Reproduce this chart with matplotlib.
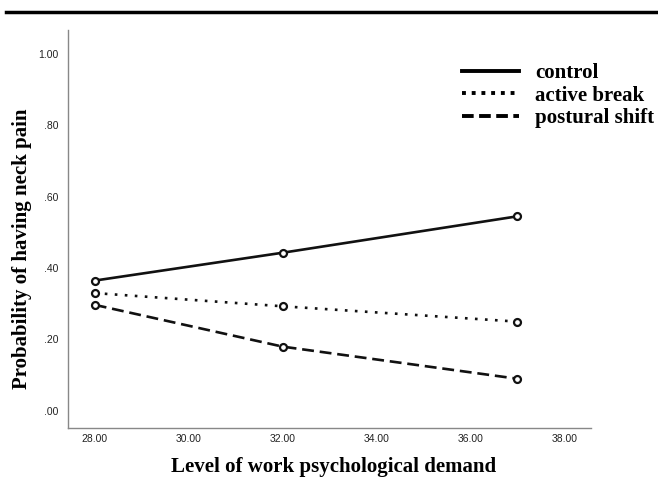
import matplotlib
matplotlib.use('Agg')
import matplotlib.pyplot as plt
from matplotlib.lines import Line2D

demand = [28, 32, 37]
control = [0.365, 0.443, 0.545]
active_break = [0.33, 0.293, 0.25]
postural_shift = [0.297, 0.18, 0.09]
x_ticks = [28, 30, 32, 34, 36, 38]
y_ticks = [0.0, 0.2, 0.4, 0.6, 0.8, 1.0]
y_labels = ['.00', '.20', '.40', '.60', '.80', '1.00']

fig = plt.figure(figsize=(6.58, 4.83), dpi=100)
ax = fig.add_axes([68 / 658, 1 - 428 / 483, (591 - 68) / 658, (428 - 30) / 483])

mk = dict(marker='o', markersize=5, markerfacecolor='white', markeredgecolor='#111111',
          markeredgewidth=1.6, color='#111111', lw=1.9)
ax.plot(demand, control, linestyle='-', label='control', **mk)
ax.plot(demand, active_break, linestyle=(0, (1, 2.8)), label='active break', **mk)
ax.plot(demand, postural_shift, linestyle=(0, (4.5, 2.2)), label='postural shift', **mk)

ax.set_xlim(27.43, 38.57)
ax.set_ylim(-0.048, 1.067)
ax.set_xticks(x_ticks)
ax.set_xticklabels(['%.2f' % v for v in x_ticks])
ax.set_yticks(y_ticks)
ax.set_yticklabels(y_labels)
ax.tick_params(length=0, labelsize=7.5, colors='#222222')
ax.tick_params(axis='x', pad=4)
ax.tick_params(axis='y', pad=7)
for lab in ax.get_xticklabels() + ax.get_yticklabels():
    lab.set_family('Liberation Sans')

for s in ['top', 'right']:
    ax.spines[s].set_visible(False)
for s in ['left', 'bottom']:
    ax.spines[s].set_color('#888888')
    ax.spines[s].set_linewidth(1.0)

ax.set_xlabel('Level of work psychological demand', family='Liberation Serif',
              fontweight='bold', fontsize=15, va='center')
ax.xaxis.set_label_coords(0.507, -0.098)
ax.set_ylabel('Probability of having neck pain', family='Liberation Serif',
              fontweight='bold', fontsize=15, va='center')
ax.yaxis.set_label_coords(-0.087, 0.45)

handles = [Line2D([], [], color='black', lw=2.8, linestyle=ls)
           for ls in ['-', (0, (1, 1.5)), (0, (3, 1.4))]]
fig.legend(handles, ['control', 'active break', 'postural shift'],
           loc='upper left', bbox_to_anchor=(462 / 658, 1 - 63 / 483),
           frameon=False, borderpad=0, borderaxespad=0, handlelength=2.75,
           handletextpad=0.75, labelspacing=0.13,
           prop={'family': 'Liberation Serif', 'weight': 'bold', 'size': 15})

fig.add_artist(Line2D([6 / 658, 1], [1 - 12 / 483, 1 - 12 / 483], color='black', lw=2.5))

fig.savefig('out.png', dpi=100)
